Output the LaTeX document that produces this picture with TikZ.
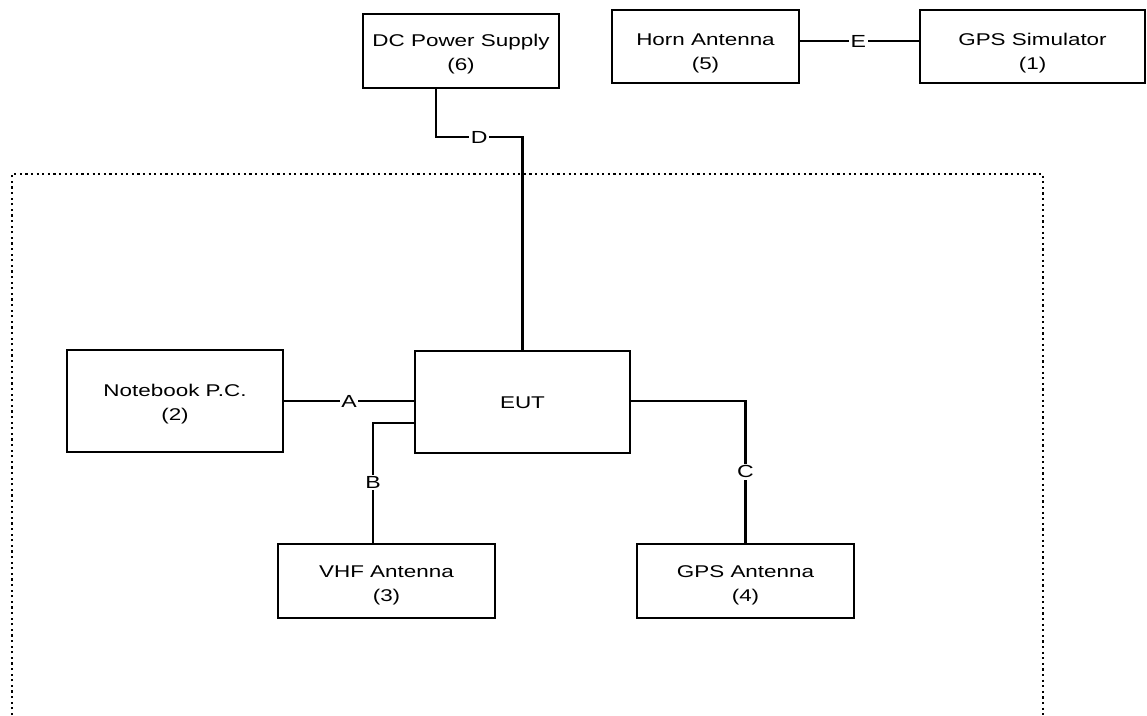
\documentclass[tikz,border=0pt]{standalone}
\usepackage{fontspec}
\newfontfamily\diagfont{Liberation Sans}[FakeStretch=1.32]
\begin{document}
\begin{tikzpicture}[x=1pt,y=-1pt,
  box/.style={draw=black,line width=2.6pt,fill=white,inner sep=0pt},
  txt/.style={align=center,inner sep=0pt,font=\diagfont\fontsize{17}{24}\selectfont},
  wire/.style={draw=black,line width=2.1pt},
  lbl/.style={fill=white,inner sep=1.5pt,font=\diagfont\fontsize{17.5}{20}\selectfont},
  dotbox/.style={draw=black,line width=2.4pt,dash pattern=on 2.2pt off 3.4pt}]
\useasboundingbox (0,0) rectangle (1147,715);
% dotted enclosure (bottom edge lies outside the picture)
\draw[dotbox] (12,715) -- (12,174) -- (1043,174) -- (1043,715);
% boxes
\node[box,minimum width=196pt,minimum height=74pt] (dc) at (461,51) {};
\node[box,minimum width=187pt,minimum height=73pt] (horn) at (705.5,46.5) {};
\node[box,minimum width=225pt,minimum height=73pt] (sim) at (1032.5,46.5) {};
\node[box,minimum width=216pt,minimum height=102pt] (nb) at (175,401) {};
\node[box,minimum width=215pt,minimum height=102pt] (eut) at (522.5,402) {};
\node[box,minimum width=217pt,minimum height=74pt] (vhf) at (386.5,581) {};
\node[box,minimum width=217pt,minimum height=74pt] (gpsa) at (745.5,581) {};
% box texts
\node[txt] (dct) at ([yshift=-3.5pt]dc.center) {DC Power Supply\\(6)};
\node[txt] (hornt) at ([yshift=-7pt]horn.center) {Horn Antenna\\(5)};
\node[txt] (simt) at ([yshift=-7pt]sim.center) {GPS Simulator\\(1)};
\node[txt] (nbt) at ([yshift=-3pt]nb.center) {Notebook P.C.\\(2)};
\node[txt] (eutt) at ([yshift=-0.5pt]eut.center) {EUT};
\node[txt] (vhft) at ([yshift=-4pt]vhf.center) {VHF Antenna\\(3)};
\node[txt] (gpsat) at ([yshift=-4pt]gpsa.center) {GPS Antenna\\(4)};
\coordinate (dk) at (522.5,137);
% connectors
\draw[wire] ([yshift=5.5pt]horn.east) -- node[lbl,pos=0.49]{E} ([yshift=5.5pt]sim.west);
\draw[wire] (nb.east) -- node[lbl]{A} (nb.east -| eut.west);
\draw[wire] ([yshift=-21pt]eut.west) -| node[lbl,pos=0.75]{B} ([xshift=-13.5pt]vhf.north);
\draw[wire] ([yshift=1pt]eut.east) -| node[lbl,pos=0.75]{C} (gpsa.north);
\draw[wire] ([xshift=-25pt]dc.south) |- node[lbl,pos=0.75]{D} (dk) -- (eut.north);
\end{tikzpicture}
\end{document}
